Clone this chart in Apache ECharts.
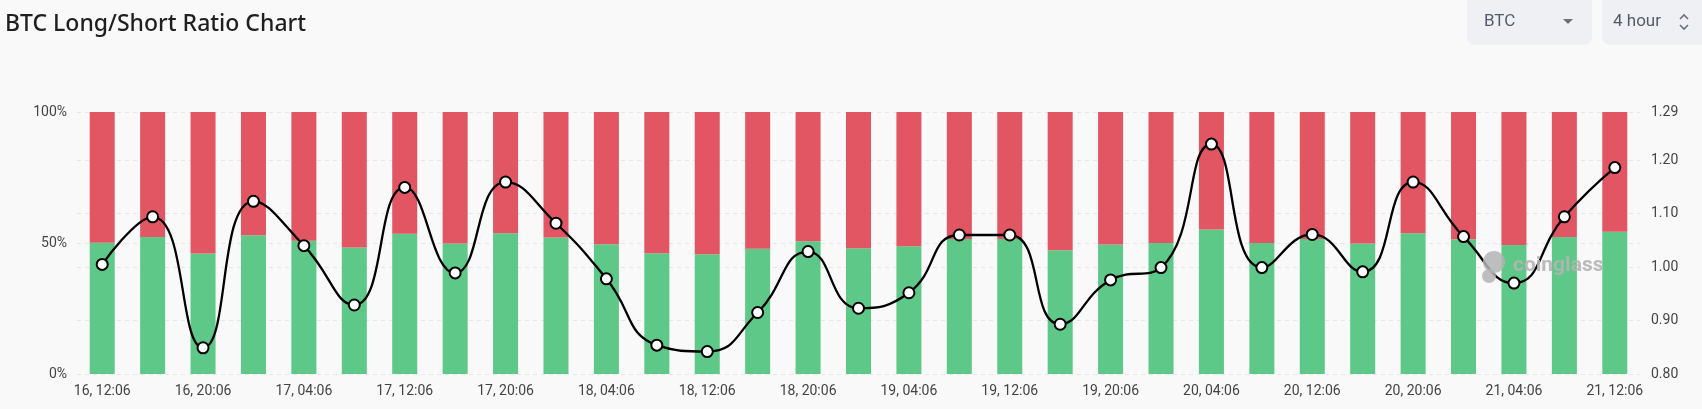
<!DOCTYPE html>
<html>
<head>
<meta charset="utf-8">
<script src="https://cdn.jsdelivr.net/npm/echarts@6/dist/echarts.min.js"></script>
<style>
  html, body { margin: 0; padding: 0; background: #f9f9f9; }
  #chart { width: 1702px; height: 409px; }
</style>
</head>
<body>
<div id="chart"></div>
<script>
const categories = [
  '16, 12:06', '16, 16:06', '16, 20:06', '17, 00:06', '17, 04:06', '17, 08:06',
  '17, 12:06', '17, 16:06', '17, 20:06', '18, 00:06', '18, 04:06', '18, 08:06',
  '18, 12:06', '18, 16:06', '18, 20:06', '19, 00:06', '19, 04:06', '19, 08:06',
  '19, 12:06', '19, 16:06', '19, 20:06', '20, 00:06', '20, 04:06', '20, 08:06',
  '20, 12:06', '20, 16:06', '20, 20:06', '21, 00:06', '21, 04:06', '21, 08:06',
  '21, 12:06'
];
const longPct = [
  50.1, 52.3, 46.0, 53.0, 50.9, 48.3, 53.5, 49.8, 53.7, 52.1, 49.5,
  46.1, 45.7, 47.8, 50.7, 48.0, 48.8, 51.5, 51.5, 47.2, 49.4, 50.0,
  55.2, 50.0, 51.5, 49.8, 53.7, 51.4, 49.2, 52.3, 54.3
];
const shortPct = [
  49.9, 47.7, 54.0, 47.0, 49.1, 51.7, 46.5, 50.2, 46.3, 47.9, 50.5,
  53.9, 54.3, 52.2, 49.3, 52.0, 51.2, 48.5, 48.5, 52.8, 50.6, 50.0,
  44.8, 50.0, 48.5, 50.2, 46.3, 48.6, 50.8, 47.7, 45.7
];
const ratio = [
  1.005, 1.094, 0.849, 1.123, 1.040, 0.929, 1.149, 0.989, 1.159, 1.082, 0.978,
  0.854, 0.842, 0.915, 1.029, 0.923, 0.952, 1.060, 1.060, 0.893, 0.976, 0.999,
  1.230, 0.999, 1.061, 0.991, 1.159, 1.057, 0.970, 1.094, 1.186
];
const leftTicks = { min: 0, max: 100, interval: 50 };
const rightTicks = { min: 0.8, max: 1.29, interval: 0.1 };

const chart = echarts.init(document.getElementById('chart'), null, { renderer: 'canvas' });
const labelFont = 'Roboto, "DejaVu Sans", sans-serif';
const split = { show: true, lineStyle: { color: '#e6e6e6', type: [4, 4], width: 1 } };

chart.setOption({
  backgroundColor: '#f9f9f9',
  animation: false,
  title: {
    text: 'BTC Long/Short Ratio Chart',
    left: 0, top: 8,
    textStyle: { fontFamily: '"Noto Sans", "Open Sans", sans-serif', fontSize: 23, fontWeight: 500, color: '#1f1f1f' }
  },
  grid: { left: 77, right: 62, top: 112, bottom: 35 },
  xAxis: {
    type: 'category',
    data: categories,
    axisLine: { show: false },
    axisTick: { show: false },
    axisLabel: { interval: 1, margin: 10, color: '#444', fontSize: 14, fontFamily: labelFont }
  },
  yAxis: [
    {
      type: 'value', min: leftTicks.min, max: leftTicks.max, interval: leftTicks.interval,
      axisLine: { show: false }, axisTick: { show: false },
      axisLabel: { formatter: '{value}%', color: '#444', fontSize: 14, fontFamily: labelFont, margin: 10 },
      splitLine: split
    },
    {
      type: 'value', min: rightTicks.min, max: rightTicks.max, interval: rightTicks.interval,
      axisLine: { show: false }, axisTick: { show: false },
      axisLabel: { formatter: v => v.toFixed(2), color: '#444', fontSize: 14, fontFamily: labelFont, margin: 11 },
      splitLine: split
    }
  ],
  series: [
    {
      name: 'Long', type: 'bar', stack: 'ls', data: longPct, barWidth: 25,
      itemStyle: { color: '#5dc887' }, yAxisIndex: 0
    },
    {
      name: 'Short', type: 'bar', stack: 'ls', data: shortPct, barWidth: 25,
      itemStyle: { color: '#e25563' }, yAxisIndex: 0
    },
    {
      name: 'Ratio', type: 'line', data: ratio, yAxisIndex: 1, smooth: true,
      symbol: 'circle', symbolSize: 11, z: 5,
      lineStyle: { color: '#000', width: 2.3 },
      itemStyle: { color: '#fff', borderColor: '#000', borderWidth: 2 }
    }
  ],
  graphic: [
    { type: 'circle', shape: { cx: 1494, cy: 262, r: 11 }, style: { fill: 'rgba(180,180,180,0.85)' }, z: 10 },
    { type: 'circle', shape: { cx: 1489, cy: 276, r: 7 }, style: { fill: 'rgba(180,180,180,0.85)' }, z: 10 },
    { type: 'text', x: 1513, y: 266, z: 10,
      style: { text: 'coinglass', font: 'bold 21px Roboto, sans-serif', fill: 'rgba(180,180,180,0.9)', verticalAlign: 'middle' } },
    { type: 'rect', shape: { x: 1467, y: -10, width: 125, height: 55, r: 8 }, style: { fill: '#eef0f4' } },
    { type: 'text', x: 1484, y: 22, style: { text: 'BTC', font: '17px Roboto, sans-serif', fill: '#565b6b', verticalAlign: 'middle' } },
    { type: 'polygon', shape: { points: [[1563, 19], [1573, 19], [1568, 24]] }, style: { fill: '#6b6f7e' } },
    { type: 'rect', shape: { x: 1602, y: -10, width: 120, height: 55, r: 8 }, style: { fill: '#eef0f4' } },
    { type: 'text', x: 1613, y: 22, style: { text: '4 hour', font: '17px Roboto, sans-serif', fill: '#565b6b', verticalAlign: 'middle' } },
    { type: 'polyline', shape: { points: [[1680, 19], [1684, 15], [1688, 19]] }, style: { stroke: '#6b6f7e', lineWidth: 1.6, fill: null } },
    { type: 'polyline', shape: { points: [[1680, 25], [1684, 29], [1688, 25]] }, style: { stroke: '#6b6f7e', lineWidth: 1.6, fill: null } }
  ]
});
</script>
</body>
</html>
